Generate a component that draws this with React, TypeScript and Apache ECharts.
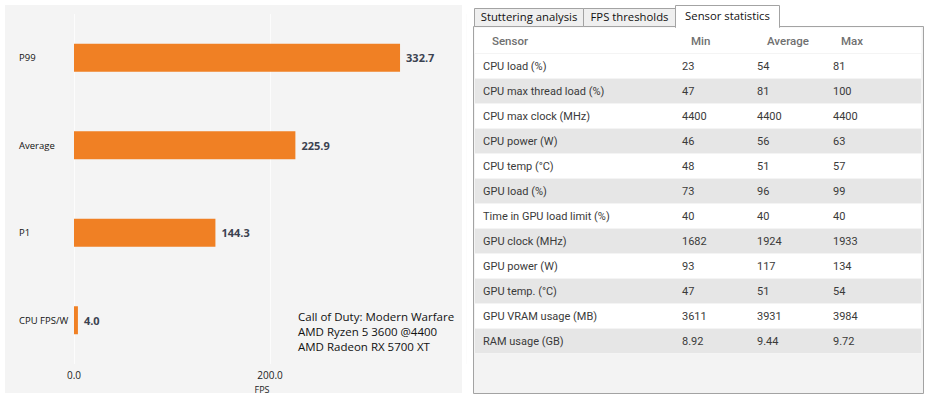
import React, { useEffect, useRef } from "react";
import * as echarts from "echarts";

const categories = ["P99", "Average", "P1", "CPU FPS/W"];
const fpsValues = [332.7, 225.9, 144.3, 4.0];
const xTicks = [0, 200];
const infoLines = ["Call of Duty: Modern Warfare", "AMD Ryzen 5 3600 @4400", "AMD Radeon RX 5700 XT"];

const tabs = ["Stuttering analysis", "FPS thresholds", "Sensor statistics"];
const tableHeaders = ["Sensor", "Min", "Average", "Max"];
const sensorNames = [
  "CPU load (%)",
  "CPU max thread load (%)",
  "CPU max clock (MHz)",
  "CPU power (W)",
  "CPU temp (°C)",
  "GPU load (%)",
  "Time in GPU load limit (%)",
  "GPU clock (MHz)",
  "GPU power (W)",
  "GPU temp. (°C)",
  "GPU VRAM usage (MB)",
  "RAM usage (GB)",
];
const sensorMin = ["23", "47", "4400", "46", "48", "73", "40", "1682", "93", "47", "3611", "8.92"];
const sensorAvg = ["54", "81", "4400", "56", "51", "96", "40", "1924", "117", "51", "3931", "9.44"];
const sensorMax = ["81", "100", "4400", "63", "57", "99", "40", "1933", "134", "54", "3984", "9.72"];

const LEFT_FONT = "'Open Sans', 'Noto Sans', sans-serif";
const TABLE_FONT = "Roboto, 'Noto Sans', sans-serif";

function buildTable(): any[] {
  const els: any[] = [];
  const boxX = 473.5, boxY = 26.5, boxW = 450, boxH = 367;
  const rowH = 25;
  const headerH = 27;
  els.push({
    type: "rect",
    shape: { x: boxX, y: boxY, width: boxW, height: boxH },
    style: { fill: "#f3f3f3", stroke: "#a3a3a3", lineWidth: 1 },
  });
  els.push({
    type: "rect",
    shape: { x: boxX + 1, y: boxY + 1, width: boxW - 3, height: headerH },
    style: { fill: "#ffffff" },
  });
  const headerX = [492, 691, 767, 841];
  tableHeaders.forEach((h, i) => {
    els.push({
      type: "text",
      x: headerX[i],
      y: 41,
      style: { text: h, font: `500 11.5px ${TABLE_FONT}`, fill: "#707070", textVerticalAlign: "middle" },
    });
  });
  const colX = [483, 682, 757, 833];
  sensorNames.forEach((name, r) => {
    const y0 = boxY + headerH + r * rowH;
    els.push({
      type: "rect",
      shape: { x: boxX + 1, y: y0, width: boxW - 3, height: rowH },
      style: { fill: r % 2 === 0 ? "#ffffff" : "#e6e6e6", stroke: "#f4f4f4", lineWidth: 1 },
    });
    const vals = [name, sensorMin[r], sensorAvg[r], sensorMax[r]];
    vals.forEach((v, c) => {
      els.push({
        type: "text",
        x: colX[c],
        y: y0 + rowH / 2,
        style: { text: v, font: `11px ${TABLE_FONT}`, fill: "#3a3a3a", textVerticalAlign: "middle" },
      });
    });
  });
  const tabX = [474, 583, 675, 779];
  tabs.forEach((t, i) => {
    const active = i === 2;
    const top = active ? 5.5 : 8.5;
    els.push({
      type: "rect",
      shape: { x: tabX[i] + 0.5, y: top, width: tabX[i + 1] - tabX[i], height: 26.5 - top + (active ? 1 : 0) },
      style: { fill: active ? "#ffffff" : "#efefef", stroke: "#a3a3a3", lineWidth: 1 },
    });
    if (active) {
      els.push({
        type: "rect",
        shape: { x: tabX[i] + 1, y: 24, width: tabX[i + 1] - tabX[i] - 1, height: 4 },
        style: { fill: "#ffffff" },
      });
    }
    els.push({
      type: "text",
      x: (tabX[i] + tabX[i + 1]) / 2 + 0.5,
      y: active ? 15 : 16.5,
      style: {
        text: t,
        font: `11.3px ${LEFT_FONT}`,
        fill: "#111111",
        textAlign: "center",
        textVerticalAlign: "middle",
      },
    });
  });
  return els;
}

export default function App() {
  const ref = useRef<HTMLDivElement>(null);
  useEffect(() => {
    if (!ref.current) return;
    const chart = echarts.init(ref.current, undefined, { renderer: "svg" });
    const option: any = {
      animation: false,
      backgroundColor: "#ffffff",
      graphic: [
        {
          type: "rect",
          z: -10,
          shape: { x: 5, y: 5, width: 457, height: 388 },
          style: { fill: "#f4f4f4" },
          silent: true,
        },
        {
          type: "text",
          left: 298,
          top: 309,
          z: 10,
          style: {
            text: infoLines.join("\n"),
            font: `11.5px ${LEFT_FONT}`,
            lineHeight: 15,
            fill: "#111111",
          },
        },
        ...buildTable(),
      ],
      grid: { left: 74, top: 14, width: 392, height: 350, containLabel: false },
      xAxis: {
        type: "value",
        min: xTicks[0],
        max: 400,
        interval: xTicks[1] - xTicks[0],
        axisLine: { show: false },
        axisTick: { show: false },
        splitLine: { show: true, lineStyle: { color: "#fcfcfc", width: 1 } },
        axisLabel: {
          showMaxLabel: false,
          formatter: (v: number) => v.toFixed(1),
          fontFamily: LEFT_FONT,
          fontSize: 10,
          color: "#222222",
          margin: 6,
        },
        name: "FPS",
        nameLocation: "middle",
        nameGap: 15,
        nameTextStyle: { fontFamily: LEFT_FONT, fontSize: 9, color: "#222222", padding: [0, 16, 0, 0] },
      },
      yAxis: {
        type: "category",
        data: categories,
        inverse: true,
        axisLine: { show: false },
        axisTick: { show: false },
        splitLine: { show: false },
        axisLabel: {
          align: "left",
          margin: 55,
          fontFamily: LEFT_FONT,
          fontSize: 9.5,
          color: "#111111",
        },
      },
      series: [
        {
          type: "bar",
          data: fpsValues,
          barWidth: 28,
          itemStyle: { color: "#f08024" },
          label: {
            show: true,
            position: "right",
            distance: 6,
            formatter: (p: any) => Number(p.value).toFixed(1),
            fontFamily: LEFT_FONT,
            fontSize: 11,
            fontWeight: "bold",
            color: "#3b4250",
          },
        },
      ],
    };
    chart.setOption(option);
    return () => chart.dispose();
  }, []);
  return <div ref={ref} style={{ position: "fixed", left: 0, top: 0, width: 929, height: 399 }} />;
}
